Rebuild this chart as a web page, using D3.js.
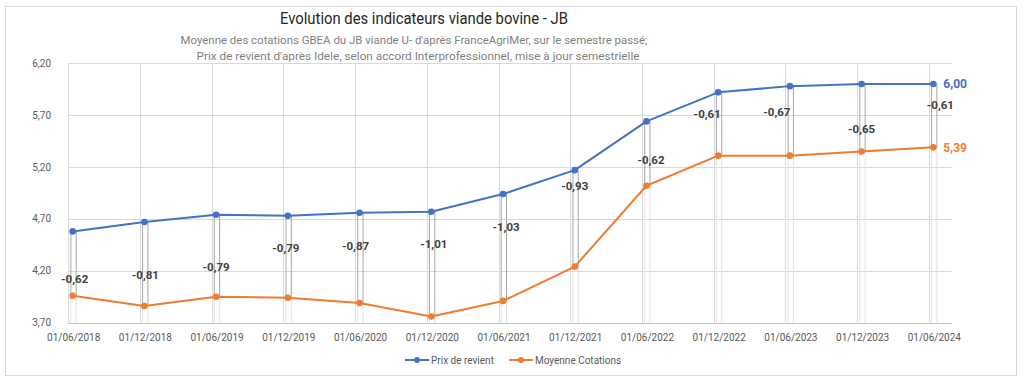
<!DOCTYPE html>
<html><head><meta charset="utf-8">
<script src="https://cdn.jsdelivr.net/npm/d3@7"></script>
<style>
html,body{margin:0;padding:0;background:#fff;}
svg text{font-family:Roboto,"Open Sans",sans-serif;}
</style></head>
<body><svg id="c" width="1024" height="383"></svg>
<script>
const dates = ["01/06/2018","01/12/2018","01/06/2019","01/12/2019","01/06/2020","01/12/2020","01/06/2021","01/12/2021","01/06/2022","01/12/2022","01/06/2023","01/12/2023","01/06/2024"];
const prixRevient = [4.58,4.67,4.74,4.73,4.76,4.77,4.94,5.17,5.64,5.92,5.98,6.00,6.00];
const moyenneCotations = [3.96,3.86,3.95,3.94,3.89,3.76,3.91,4.24,5.02,5.31,5.31,5.35,5.39];
const yTicks = [3.70,4.20,4.70,5.20,5.70,6.20];
const seriesNames = ["Prix de revient","Moyenne Cotations"];
const titleText = "Evolution des indicateurs viande bovine - JB";
const subtitleLines = ["Moyenne des cotations GBEA du JB viande U- d'après FranceAgriMer, sur le semestre passé;","Prix de revient d'après Idele, selon accord Interprofessionnel, mise à jour semestrielle"];
// layout of the difference labels (value where label is centred, horizontal nudge in px)
const diffLabelAt = [4.125,4.163,4.24,4.424,4.443,4.463,4.627,5.013,5.273,5.708,5.727,5.563,5.795];
const diffLabelDx = [2,1,0,-2,-4,2.5,3,0,4.5,-11,-13,0,7];

const blue="#4472c4", orange="#ed7d31";
const svg=d3.select("#c");
const fmt = v => (v<0?"-":"")+Math.abs(v).toFixed(2).replace(".",",");

svg.append("rect").attr("x",5.5).attr("y",6.5).attr("width",1011).attr("height",369).attr("fill","#fff").attr("stroke","#d9d9d9");

const x=d3.scaleLinear().domain([-0.065,12.26]).range([68,952]);
const y=d3.scaleLinear().domain([3.7,6.2]).range([322.7,63.3]);
const idx=d3.range(dates.length);

// horizontal grid
svg.append("g").selectAll("line").data(yTicks).join("line")
 .attr("x1",x.range()[0]).attr("x2",x.range()[1])
 .attr("y1",d=>Math.round(y(d))+0.5).attr("y2",d=>Math.round(y(d))+0.5)
 .attr("stroke",(d,i)=>i===0?"#bfbfbf":"#d9d9d9");
// vertical grid
svg.append("g").selectAll("line").data(idx).join("line")
 .attr("x1",i=>Math.round(x(i)-4.5)+0.5).attr("x2",i=>Math.round(x(i)-4.5)+0.5)
 .attr("y1",y(6.2)).attr("y2",y(3.7)).attr("stroke","#d9d9d9");
// light drop lines under the orange point
[-1.8,3.5].forEach(off=>{
 svg.append("g").selectAll("line").data(idx).join("line")
  .attr("x1",i=>x(i)+off).attr("x2",i=>x(i)+off)
  .attr("y1",i=>y(moyenneCotations[i])).attr("y2",y(3.7)).attr("stroke","#e3e3e3");
});
// gap bars between the two series
svg.append("g").selectAll("rect").data(idx).join("rect")
 .attr("x",i=>x(i)-1.8).attr("width",5.3)
 .attr("y",i=>y(prixRevient[i])).attr("height",i=>y(moyenneCotations[i])-y(prixRevient[i]))
 .attr("fill","none").attr("stroke","#a6a6a6").attr("stroke-width",1);

// y axis labels
svg.append("g").selectAll("text").data(yTicks).join("text")
 .attr("x",51).attr("y",d=>y(d)).attr("dy","0.35em").attr("text-anchor","end")
 .attr("font-size",10).attr("fill","#595959").text(fmt);
// x axis labels
svg.append("g").selectAll("text").data(idx).join("text")
 .attr("x",i=>x(i)+1).attr("y",341).attr("text-anchor","middle")
 .attr("font-size",10).attr("fill","#595959").text(i=>dates[i]);

const line=d3.line().x((d,i)=>x(i)).y(d=>y(d));
[[prixRevient,blue],[moyenneCotations,orange]].forEach(([arr,c])=>{
 svg.append("path").attr("d",line(arr)).attr("fill","none").attr("stroke",c).attr("stroke-width",2).attr("stroke-linejoin","round");
 svg.append("g").selectAll("circle").data(arr).join("circle")
  .attr("cx",(d,i)=>x(i)).attr("cy",d=>y(d)).attr("r",3.3).attr("fill",c);
});

// difference labels
svg.append("g").selectAll("text").data(idx).join("text")
 .attr("x",i=>x(i)+diffLabelDx[i]).attr("y",i=>y(diffLabelAt[i])).attr("dy","0.35em")
 .attr("text-anchor","middle").attr("font-size",11.5).attr("font-weight","bold").attr("fill","#404040")
 .text(i=>fmt(-(Math.round(prixRevient[i]*100)-Math.round(moyenneCotations[i]*100))/100));

// end labels
const last=dates.length-1;
svg.append("text").attr("x",x(last)+10).attr("y",y(prixRevient[last])).attr("dy","0.35em")
 .attr("font-size",12).attr("font-weight","bold").attr("fill",blue).text(fmt(prixRevient[last]));
svg.append("text").attr("x",x(last)+10).attr("y",y(moyenneCotations[last])).attr("dy","0.35em")
 .attr("font-size",12).attr("font-weight","bold").attr("fill",orange).text(fmt(moyenneCotations[last]));

// title
svg.append("text").attr("x",424).attr("y",24).attr("text-anchor","middle").attr("font-size",17)
 .attr("fill","#262626").attr("textLength",288).attr("lengthAdjust","spacingAndGlyphs").text(titleText);
svg.append("text").attr("x",414).attr("y",44).attr("text-anchor","middle").attr("font-size",11.5)
 .attr("fill","#7f7f7f").attr("textLength",467).attr("lengthAdjust","spacingAndGlyphs").text(subtitleLines[0]);
svg.append("text").attr("x",418).attr("y",60).attr("text-anchor","middle").attr("font-size",11.5)
 .attr("fill","#7f7f7f").attr("textLength",443).attr("lengthAdjust","spacingAndGlyphs").text(subtitleLines[1]);

// legend
const leg=[{n:seriesNames[0],c:blue,x:405},{n:seriesNames[1],c:orange,x:509}];
const lg=svg.append("g").selectAll("g").data(leg).join("g").attr("transform",d=>`translate(${d.x},360)`);
lg.append("line").attr("x1",0).attr("x2",24).attr("stroke",d=>d.c).attr("stroke-width",2);
lg.append("circle").attr("cx",12).attr("r",3).attr("fill",d=>d.c);
lg.append("text").attr("x",26).attr("dy","0.35em").attr("font-size",10).attr("fill","#595959").text(d=>d.n);
</script></body></html>
